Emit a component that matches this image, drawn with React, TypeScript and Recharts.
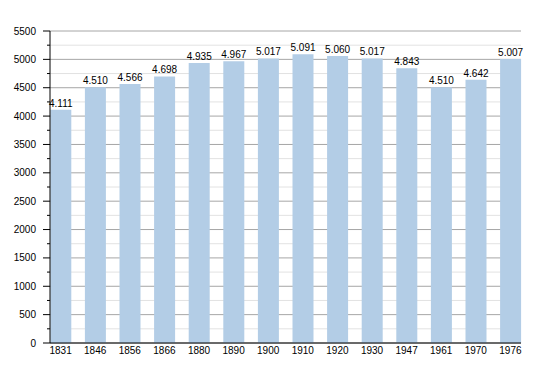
import { BarChart, Bar, XAxis, YAxis, CartesianGrid, LabelList } from "recharts";

const years = ["1831", "1846", "1856", "1866", "1880", "1890", "1900", "1910", "1920", "1930", "1947", "1961", "1970", "1976"];
const population = [4111, 4510, 4566, 4698, 4935, 4967, 5017, 5091, 5060, 5017, 4843, 4510, 4642, 5007];
const yTicks = [0, 250, 500, 750, 1000, 1250, 1500, 1750, 2000, 2250, 2500, 2750, 3000, 3250, 3500, 3750, 4000, 4250, 4500, 4750, 5000, 5250, 5500];

const data = years.map((year, i) => ({ year, value: population[i] }));

const AXIS_X = 42;
const FONT = "'Liberation Sans', Arial, sans-serif";

const fmt = (n: number) => {
  const k = Math.floor(n / 1000);
  return k > 0 ? `${k}.${String(n % 1000).padStart(3, "0")}` : String(n);
};

function YTick({ y, payload }: any) {
  const v = payload.value as number;
  const major = v % 500 === 0;
  return (
    <g>
      <line x1={AXIS_X - (major ? 7 : 3)} x2={AXIS_X} y1={y} y2={y} stroke="#000" />
      {major && (
        <text x={AXIS_X - 14} y={y} dy="0.35em" textAnchor="end" fontSize={10} fill="#000" fontFamily={FONT}>
          {v}
        </text>
      )}
    </g>
  );
}

function GridLine(props: any) {
  const { x1, x2, y1, y2, index } = props;
  return (
    <line
      key={`g-${index}`}
      x1={x1}
      x2={x2}
      y1={y1}
      y2={y2}
      stroke={index % 2 === 0 ? "#a6a6a6" : "#e2e2e2"}
      strokeWidth={1}
    />
  );
}

export default function App() {
  return (
    <div style={{ width: 534, height: 357, fontFamily: FONT }}>
      <BarChart width={534} height={357} data={data} margin={{ top: 23, right: 21, left: 0, bottom: 0 }}>
        <CartesianGrid vertical={false} horizontal={(p: any) => <GridLine {...p} />} />
        <XAxis
          dataKey="year"
          height={22}
          padding={{ left: -6.7, right: -6.7 }}
          tickLine={false}
          tickSize={0}
          tickMargin={4}
          axisLine={{ stroke: "#000" }}
          tick={{ fontSize: 10, fill: "#000", fontFamily: FONT }}
          interval={0}
        />
        <YAxis
          width={42}
          domain={[0, 5500]}
          ticks={yTicks}
          interval={0}
          tickLine={false}
          axisLine={{ stroke: "#000" }}
          tick={<YTick />}
        />
        <Bar dataKey="value" fill="#b3cde6" barSize={21} isAnimationActive={false}>
          <LabelList
            dataKey="value"
            position="top"
            offset={3}
            formatter={(v: any) => fmt(Number(v))}
            style={{ fontSize: 10, fill: "#000", fontFamily: FONT }}
          />
        </Bar>
      </BarChart>
    </div>
  );
}
